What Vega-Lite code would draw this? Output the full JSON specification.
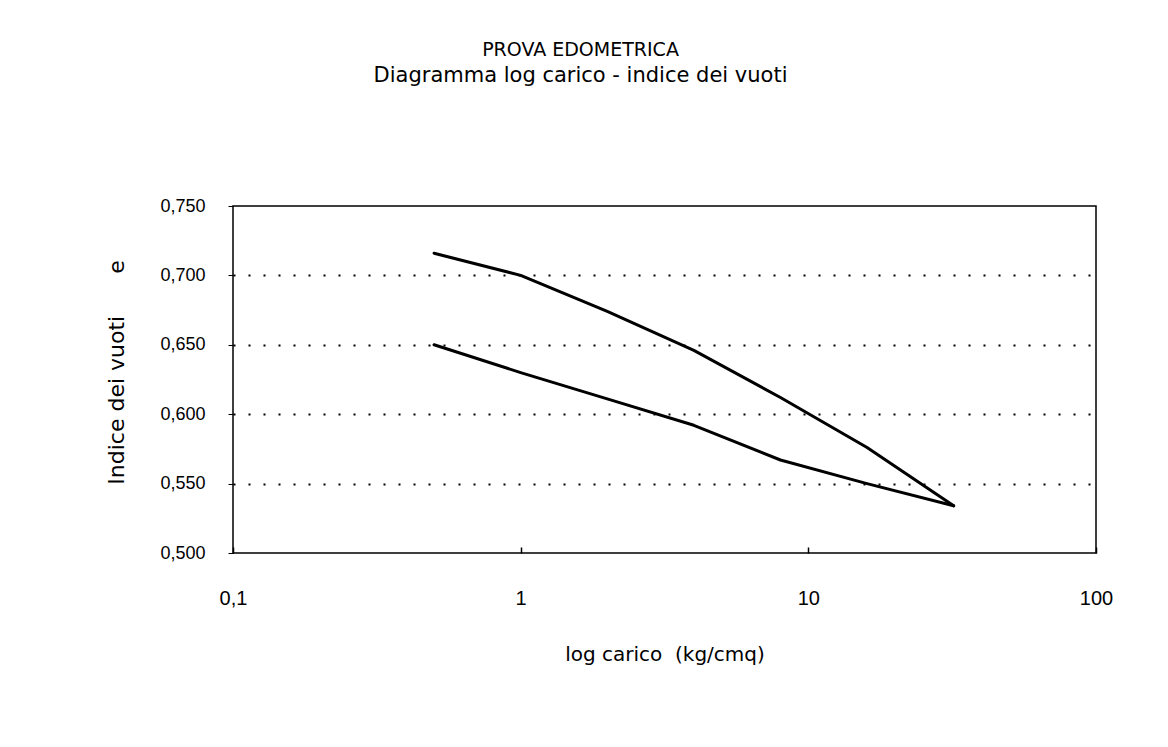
{
  "$schema": "https://vega.github.io/schema/vega-lite/v6.json",
  "width": 863,
  "height": 347,
  "autosize": "none",
  "padding": {"left": 233, "top": 206, "right": 72, "bottom": 194},
  "background": "white",
  "title": {
    "text": "PROVA EDOMETRICA",
    "subtitle": "Diagramma log carico - indice dei vuoti",
    "anchor": "middle",
    "dx": -84,
    "offset": 111,
    "font": "DejaVu Sans",
    "fontSize": 19,
    "fontWeight": "normal",
    "color": "black",
    "subtitleFont": "DejaVu Sans",
    "subtitleFontSize": 21,
    "subtitleColor": "black",
    "subtitlePadding": 5
  },
  "data": {
    "values": [
      {"ramo": "carico", "ordine": 1, "carico": 0.5, "e": 0.716},
      {"ramo": "carico", "ordine": 2, "carico": 1, "e": 0.700},
      {"ramo": "carico", "ordine": 3, "carico": 2, "e": 0.674},
      {"ramo": "carico", "ordine": 4, "carico": 4, "e": 0.646},
      {"ramo": "carico", "ordine": 5, "carico": 8, "e": 0.612},
      {"ramo": "carico", "ordine": 6, "carico": 16, "e": 0.576},
      {"ramo": "carico", "ordine": 7, "carico": 32, "e": 0.534},
      {"ramo": "scarico", "ordine": 1, "carico": 32, "e": 0.534},
      {"ramo": "scarico", "ordine": 2, "carico": 16, "e": 0.550},
      {"ramo": "scarico", "ordine": 3, "carico": 8, "e": 0.567},
      {"ramo": "scarico", "ordine": 4, "carico": 4, "e": 0.592},
      {"ramo": "scarico", "ordine": 5, "carico": 2, "e": 0.611},
      {"ramo": "scarico", "ordine": 6, "carico": 1, "e": 0.630},
      {"ramo": "scarico", "ordine": 7, "carico": 0.5, "e": 0.650}
    ]
  },
  "mark": {"type": "line", "color": "black", "strokeWidth": 3, "strokeJoin": "round", "strokeCap": "round"},
  "encoding": {
    "x": {
      "field": "carico",
      "type": "quantitative",
      "scale": {"type": "log", "domain": [0.1, 100], "nice": false},
      "axis": {
        "title": "log carico\u00a0\u00a0(kg/cmq)",
        "titleFont": "DejaVu Sans",
        "titleFontSize": 20,
        "values": [0.1, 1, 10, 100],
        "labelExpr": "replace(toString(datum.value), '.', ',')",
        "labelFontSize": 20,
        "grid": false,
        "ticks": true,
        "tickSize": -6,
        "tickColor": "black",
        "tickWidth": 1.5,
        "labelPadding": 41,
        "titlePadding": 36,
        "labelFlush": false
      }
    },
    "y": {
      "field": "e",
      "type": "quantitative",
      "scale": {"domain": [0.5, 0.75], "nice": false, "zero": false},
      "axis": {
        "title": "Indice dei vuoti\u00a0\u00a0\u00a0\u00a0\u00a0\u00a0e",
        "titleFont": "DejaVu Sans",
        "titleFontSize": 22,
        "titleY": 166,
        "values": [0.5, 0.55, 0.6, 0.65, 0.7, 0.75],
        "labelExpr": "replace(format(datum.value, '.3f'), '.', ',')",
        "grid": true,
        "gridColor": "black",
        "gridWidth": 2,
        "gridDash": [2, 13],
        "gridOpacity": {"condition": {"test": "datum.value > 0.51 && datum.value < 0.74", "value": 1}, "value": 0},
        "tickSize": 5,
        "tickColor": "black",
        "labelPadding": 23,
        "titlePadding": 31
      }
    },
    "detail": {"field": "ramo"},
    "order": {"field": "ordine"}
  },
  "config": {
    "view": {"stroke": "black", "strokeWidth": 1.5},
    "axis": {
      "domain": false,
      "labelFont": "Liberation Sans",
      "labelFontSize": 18,
      "labelColor": "black",
      "titleFont": "Liberation Sans",
      "titleFontSize": 18,
      "titleFontWeight": "normal",
      "titleColor": "black"
    }
  }
}
